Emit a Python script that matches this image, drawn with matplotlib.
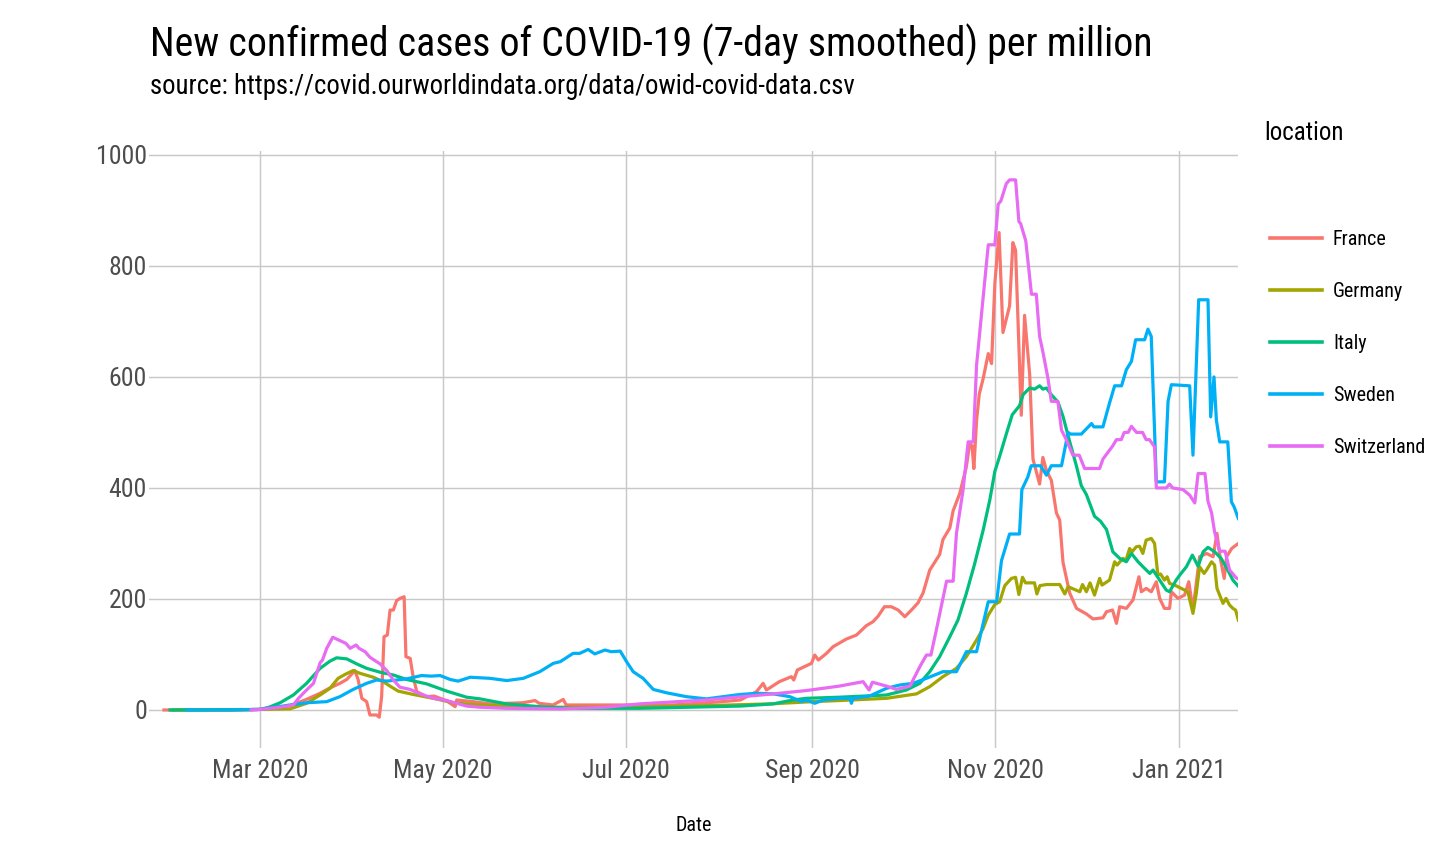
import numpy as np
import matplotlib
matplotlib.use("Agg")
import matplotlib.pyplot as plt
from matplotlib.lines import Line2D
from matplotlib import font_manager

avail = {f.name for f in font_manager.fontManager.ttflist}
FONT = "Liberation Sans"
for cand in ["Liberation Sans Narrow", "Arial Narrow", "Roboto Condensed", "Archivo Narrow",
             "PT Sans Narrow", "Liberation Sans"]:
    if cand in avail:
        FONT = cand
        break
plt.rcParams["font.family"] = [FONT, "DejaVu Sans"]

# ---------------- data (days since 2020-03-01, new cases per million) -------------
locations = ["France", "Germany", "Italy", "Sweden", "Switzerland"]
colors = ["#F8766D", "#A3A500", "#00BF7D", "#00B0F6", "#E76BF3"]

france_day = [-32, -20, -10, 0, 5, 10, 15, 20, 23, 26.6, 28.9, 31.6, 32.7, 33.9, 35.5, 36.6, 38.8, 39.7, 40.5,
              41.3, 42.4, 43.3, 44.4, 45.5, 46.6, 48, 48.6, 50, 51, 52.2, 55.5, 58, 60, 62, 65, 65.5, 71, 76.6,
              87.6, 91.6, 93, 97.6, 101, 102, 115.5, 137.6, 154, 160, 165.4, 167.6, 168.7, 173, 177, 177.8, 179,
              183.7, 184.8, 186, 188.7, 190.9, 195.4, 198.7, 202, 204.2, 205.9, 208, 210.3, 212.6, 214.8, 217,
              219.2, 220.9, 223.1, 226.4, 227.5, 229.8, 230.9, 233.1, 235.3, 236.4, 237.2, 237.8, 238.7, 239.6,
              240.9, 242.6, 243.7, 244.8, 246.2, 247.5, 249.7, 250.8, 251.7, 253.6, 254.7, 256.4, 257.5, 259.7,
              260.8, 262, 263.6, 265.3, 266.4, 267.5, 269.7, 272, 275.3, 277.5, 280.8, 282, 284, 285.3, 286.4,
              288.6, 290.8, 292.8, 293.6, 295.2, 296.9, 298.6, 299.7, 301.3, 303, 303.6, 305.8, 308, 309.4, 310.8,
              313, 315.3, 317.5, 318.8, 319.8, 321.2, 322, 323.7, 325.9]
france_val = [0, 0, 0, 1, 3, 8, 18, 30, 39, 48, 55, 71, 54, 21, 15, -9, -9, -13, 24,
              132, 135, 180, 180, 197, 201, 204, 96, 93, 60, 33, 24, 25, 21, 17, 6, 18, 15, 11,
              13, 17, 12, 9, 19, 9, 9, 9, 15, 18, 33, 48, 36, 51, 60, 54, 72,
              84, 99, 90, 102, 114, 128, 135, 152, 159, 169, 186, 186, 180, 168, 180,
              193, 211, 252, 280, 307, 328, 359, 390, 438, 480, 476, 435, 521, 569,
              597, 642, 624, 769, 860, 680, 728, 842, 828, 531, 711, 604, 452, 407,
              455, 431, 414, 355, 342, 266, 211, 183, 173, 164, 166, 177, 180, 156, 186,
              183, 198, 240, 213, 219, 213, 231, 201, 183, 183, 213, 201, 207, 231, 180,
              276, 282, 276, 318, 276, 237, 276, 291, 300]

germany_day = [-29, -10, 0, 10, 15.5, 20, 23.3, 26, 28.3, 31, 33.3, 37.7, 41, 43.3, 46, 51, 57.7, 64.4, 73, 90,
               122, 150, 170, 184, 193, 208.7, 218.7, 223.1, 227.5, 232, 235.3, 238.7, 240.9, 242.6, 244.8,
               246.4, 248.1, 250.3, 251.7, 252.8, 254, 255, 258, 258.8, 259.8, 262, 266.4, 268.1, 269.2, 273.1,
               274, 275.3, 276.5, 278, 279.7, 280.5, 283, 284.7, 285.5, 287.5, 288.5, 289.7, 290.5, 291.9, 293,
               294.1, 295.2, 296.9, 298, 299.1, 300, 301.3, 302.2, 303, 304.7, 306.9, 309.1, 310.8, 311.9, 313,
               314.5, 315.3, 317, 318, 318.8, 320.8, 321.8, 323, 324.1, 325, 325.9]
germany_val = [0, 0, 1, 2, 12, 27, 39, 57, 64, 71, 66, 59, 51, 43, 34, 28, 21, 13, 9, 5,
               5, 8, 11, 15, 17, 21, 29, 42, 60, 75, 96, 126, 147, 171, 190,
               195, 224, 237, 239, 208, 239, 229, 229, 209, 224, 226, 226, 209, 222, 213,
               226, 213, 229, 207, 237, 225, 234, 267, 261, 273, 270, 291, 285, 294, 295,
               282, 306, 309, 300, 243, 245, 234, 240, 228, 225, 219, 213, 174, 210, 258,
               246, 252, 267, 261, 219, 192, 201, 189, 183, 180, 162]

italy_day = [-30, 0, 3, 6.7, 11.1, 15.5, 20, 23.3, 25.5, 28.9, 32.2, 35.5, 40, 44.4, 48.8, 55.5, 62.2, 68.8, 73.3,
             82, 93, 104, 126.5, 160, 171, 177.5, 182, 193, 208.7, 215.3, 219.8, 223.1, 226.4, 229.8, 232.5,
             235.3, 238.1, 240.9, 243.1, 244.8, 246.4, 248.6, 250.6, 253, 254.2, 256.4, 258, 259.7, 260.8, 262,
             263.6, 265.8, 267.5, 269.7, 272, 273.6, 275.3, 278, 280, 282, 284.1, 286.4, 288.6, 290.3, 292.5,
             294.7, 296.4, 297.5, 299.7, 301.9, 303, 305.2, 306.4, 308.6, 310.6, 312.5, 314.2, 315.8, 318, 320.2,
             322.4, 324.1, 325.9]
italy_val = [0, 1, 5, 13, 27, 48, 75, 88, 94, 92, 83, 75, 68, 63, 55, 47, 34, 23, 20,
             11, 6, 3, 3, 7, 11, 18, 21, 23, 27, 36, 48, 69, 96, 132, 162,
             210, 264, 324, 378, 430, 457, 497, 532, 548, 568, 580, 578, 584, 578, 580,
             568, 555, 529, 484, 439, 404, 388, 349, 340, 325, 285, 273, 267, 282, 267,
             255, 246, 252, 234, 216, 213, 234, 243, 258, 279, 259, 285, 293, 285, 273,
             252, 234, 223]

sweden_day = [-24.4, -10, 0, 10, 15.5, 22.2, 26.6, 31, 35.5, 38.8, 42.2, 45.5, 48.8, 53.8, 57, 60, 63.3, 66, 70,
              76.6, 82.2, 87.7, 93.2, 97.7, 100, 104.3, 106.5, 109.3, 111.5, 114.9, 117, 120, 122.1, 124.3,
              127.6, 131, 135.4, 142, 148.7, 154.3, 160, 165.4, 171, 176.5, 180.4, 182, 184.8, 187.6, 193, 196.5,
              197, 197.6, 203, 208.7, 213.1, 217.6, 222, 227.5, 232, 235.3, 238.7, 242.6, 245.4, 247, 249.7, 253,
              253.8, 255.8, 256.9, 260, 262, 263.6, 267, 269.2, 270, 273.6, 277, 277.8, 280.8, 283, 284.7, 287,
              288.6, 290.3, 291.7, 294.7, 295.8, 296.9, 298.6, 301.3, 302.5, 303.6, 309.7, 310.8, 312.7, 315.8,
              316.7, 317.8, 318.6, 319.7, 322.4, 323.6, 324.5, 325.9]
sweden_val = [0, 0, 1, 9, 13, 15, 24, 37, 48, 54, 52, 54, 56, 62, 61, 62, 55, 52, 59,
              57, 53, 57, 69, 84, 87, 102, 102, 109, 101, 108, 105, 106, 87, 69,
              57, 37, 31, 24, 20, 24, 28, 30, 29, 24, 15, 18, 12, 18, 21, 21,
              12, 21, 25, 39, 45, 48, 57, 69, 69, 105, 105, 195, 195, 269, 317, 317,
              397, 420, 440, 440, 423, 440, 440, 500, 497, 497, 516, 510, 510, 553, 584, 584,
              613, 628, 667, 667, 686, 673, 411, 411, 556, 586, 584, 459, 739, 739,
              528, 600, 522, 483, 483, 375, 366, 345]

switzerland_day = [-3, 0, 6.7, 11.1, 12.8, 14.4, 15.5, 17.8, 20, 20.8, 22.2, 24.2, 26.6, 28.6, 30, 32, 33, 35,
                   36.6, 37.7, 40, 42.2, 44.4, 46.6, 50, 53.3, 57.7, 62.2, 68.8, 73.3, 82, 100, 115.5, 126.5,
                   148.7, 171, 182, 193, 200.9, 202.9, 204, 208.7, 212, 216.5, 219.8, 222, 223.5, 225.3, 228.7,
                   230.9, 232, 234.2, 235.9, 237.6, 238.7, 242.6, 244.8, 245.9, 246.8, 248.6, 249.7, 251.7, 252.8,
                   253.4, 255.1, 257, 258.6, 259.7, 260.8, 262.5, 263.6, 265.8, 267, 268.6, 270.8, 272.9, 274.7,
                   279.7, 280.8, 284.1, 285.3, 286.9, 287.9, 289.2, 290.3, 292, 294, 295.2, 296.3, 298, 298.6,
                   301.9, 303, 304, 307.5, 309.7, 311.4, 312.5, 314.8, 315.8, 317, 318, 319.7, 321.5, 323, 325.2,
                   325.9]
switzerland_val = [0, 1, 5, 9, 21, 30, 36, 48, 85, 90, 111, 131, 125, 120, 111, 117, 111, 105,
                   95, 91, 83, 71, 54, 41, 37, 29, 21, 17, 7, 5, 3, 2, 5, 11,
                   18, 29, 35, 43, 51, 36, 50, 43, 37, 43, 78, 99, 99, 144, 232,
                   232, 318, 396, 483, 483, 621, 838, 838, 911, 917, 948, 955, 955, 880,
                   876, 845, 749, 749, 673, 645, 597, 556, 556, 504, 487, 459, 459, 435,
                   435, 452, 476, 487, 487, 500, 500, 511, 500, 500, 487, 487, 474, 400,
                   400, 407, 400, 397, 387, 373, 426, 426, 376, 355, 321, 286, 286, 252, 238,
                   236]

series_days = [france_day, germany_day, italy_day, sweden_day, switzerland_day]
series_vals = [france_val, germany_val, italy_val, sweden_val, switzerland_val]

x_tick_dates = ["2020-03-01", "2020-05-01", "2020-07-01", "2020-09-01", "2020-11-01", "2021-01-01"]
x_tick_labels = ["Mar 2020", "May 2020", "Jul 2020", "Sep 2020", "Nov 2020", "Jan 2021"]
y_ticks = [0, 200, 400, 600, 800, 1000]

base = np.datetime64("2020-03-01T00:00")


def to_dates(days):
    return base + (np.asarray(days, dtype=float) * 24 * 60).round().astype("timedelta64[m]")


# ---------------- figure -------------
W, H = 1444, 864
fig = plt.figure(figsize=(W / 100, H / 100), dpi=100)
fig.patch.set_facecolor("white")

L, R, T, B = 149, 1238, 151, 748
ax = fig.add_axes([L / W, 1 - B / H, (R - L) / W, (B - T) / H])
ax.set_facecolor("white")

for d, v, c in zip(series_days, series_vals, colors):
    ax.plot(to_dates(d), v, color=c, lw=2.3, solid_joinstyle="round", zorder=3)

ax.set_xlim(to_dates([-37])[0], to_dates([325.8])[0])
ax.set_ylim(-68.5, 1007)

ax.set_xticks([np.datetime64(s) for s in x_tick_dates])
ax.set_xticklabels(x_tick_labels)
ax.set_yticks(y_ticks)
ax.set_yticklabels([str(t) for t in y_ticks])

ax.grid(True, color="#c8c8c8", lw=1.05)
ax.set_axisbelow(True)
for s in ax.spines.values():
    s.set_visible(False)
ax.tick_params(axis="both", length=0, labelsize=18.5, labelcolor="#4d4d4d")
ax.tick_params(axis="x", pad=8)
ax.tick_params(axis="y", pad=1.5)

ax.set_xlabel("Date", fontsize=14.5, color="black", labelpad=24)

# titles
fig.text(150 / W, 1 - 45 / H, "New confirmed cases of COVID-19 (7-day smoothed) per million",
         fontsize=28.7, ha="left", va="center", color="black")
fig.text(150 / W, 1 - 87 / H, "source: https://covid.ourworldindata.org/data/owid-covid-data.csv",
         fontsize=19.3, ha="left", va="center", color="black")

# legend
fig.text(1264 / W, 1 - 133 / H, "location", fontsize=18, ha="left", va="center", color="black")
for i, (name, c) in enumerate(zip(locations, colors)):
    yy = 1 - (238 + 52 * i) / H
    fig.add_artist(Line2D([1270 / W, 1322 / W], [yy, yy], color=c, lw=2.6, transform=fig.transFigure))
    fig.text(1333 / W, yy - 1.5 / H, name, fontsize=14.5, ha="left", va="center", color="black")

fig.savefig("out.png", dpi=100, facecolor="white")
